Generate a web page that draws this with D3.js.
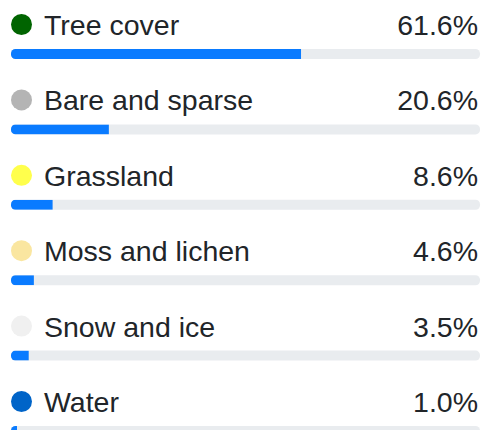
<!DOCTYPE html>
<html><head><meta charset="utf-8">
<script src="https://cdn.jsdelivr.net/npm/d3@7"></script>
<style>html,body{margin:0;padding:0;background:#fff;overflow:hidden}</style>
</head><body>
<script>
const categories = ["Tree cover","Bare and sparse","Grassland","Moss and lichen","Snow and ice","Water"];
const values = [61.6, 20.6, 8.6, 4.6, 3.5, 1.0];
const dotColors = ["#006400","#b4b4b4","#ffff4c","#fae6a0","#f0f0f0","#0064c8"];
const labels = values.map(v => v.toFixed(1) + "%");

const W = 482, H = 430;
const svg = d3.select("body").append("svg").attr("width", W).attr("height", H);
const x = d3.scaleLinear().domain([0,100]).range([12.3,481]);
const y = d3.scaleLinear().domain([0,1]).range([0,75.4]);
const trackX0 = 11, trackX1 = 480;

const defs = svg.append("defs");
categories.forEach((d,i)=>{
  defs.append("clipPath").attr("id","clip"+i).append("rect")
    .attr("x",trackX0).attr("y",49).attr("width",trackX1-trackX0).attr("height",10).attr("rx",4.5);
});

const g = svg.selectAll("g.row").data(categories).enter().append("g")
  .attr("transform",(d,i)=>`translate(0,${y(i)})`);

g.append("circle").attr("cx",21.5).attr("cy",24.5).attr("r",10.5)
  .attr("fill",(d,i)=>dotColors[i]);
g.append("text").attr("x",44).attr("y",35)
  .attr("font-family","Liberation Sans, Arial, sans-serif").attr("font-size",28.5)
  .attr("fill","#212529").text(d=>d);
g.append("text").attr("x",478).attr("y",35).attr("text-anchor","end")
  .attr("font-family","Liberation Sans, Arial, sans-serif").attr("font-size",28.5)
  .attr("fill","#212529").text((d,i)=>labels[i]);
g.append("rect").attr("x",trackX0).attr("y",49).attr("width",trackX1-trackX0).attr("height",10)
  .attr("rx",4.5).attr("fill","#e9ecef");
g.append("rect").attr("clip-path",(d,i)=>`url(#clip${i})`)
  .attr("x",trackX0).attr("y",49).attr("width",(d,i)=>x(values[i])-trackX0).attr("height",10)
  .attr("fill","#0a7bff");
</script>
</body></html>
